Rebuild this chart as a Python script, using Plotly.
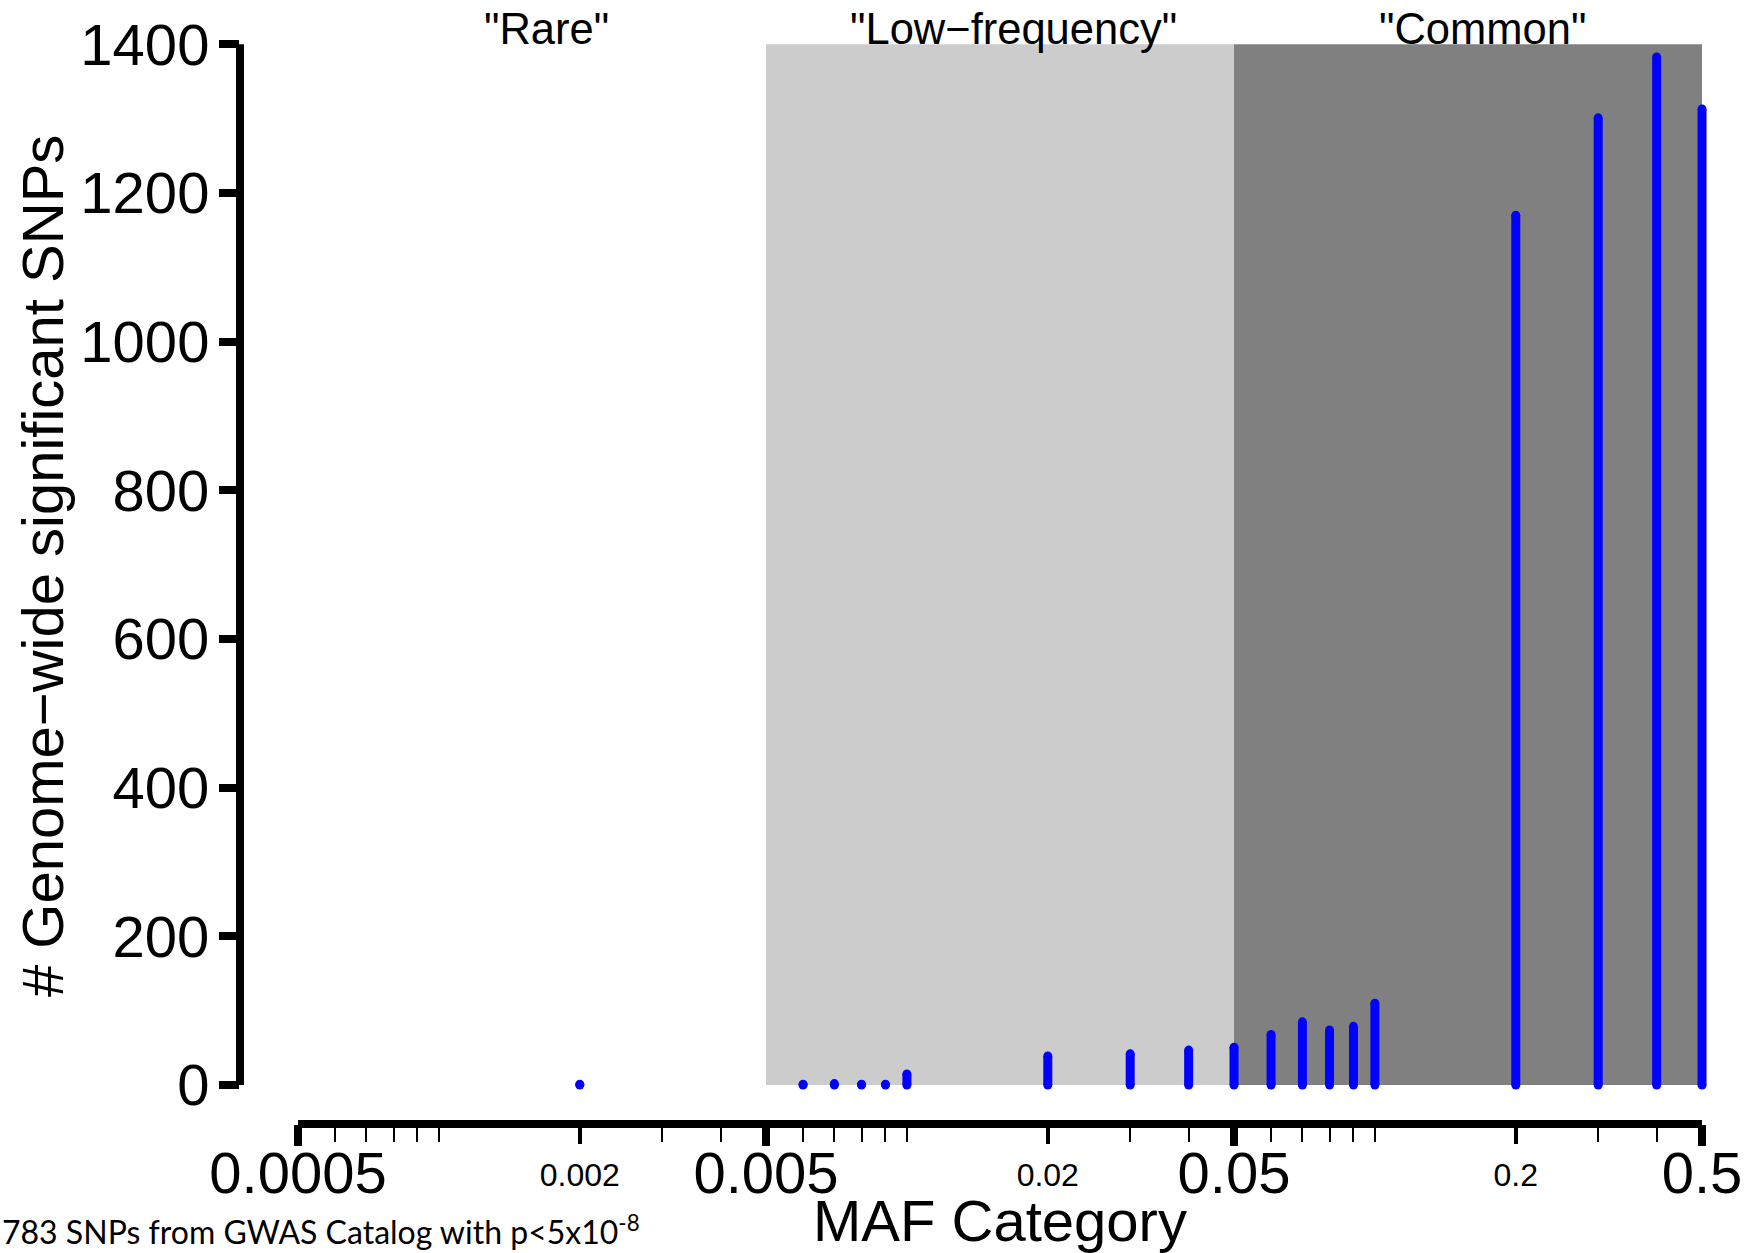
import numpy as np
import plotly.graph_objects as go

# ---------------- data ----------------
maf = [0.002, 0.006, 0.007, 0.008, 0.009, 0.01, 0.02, 0.03, 0.04, 0.05,
       0.06, 0.07, 0.08, 0.09, 0.1, 0.2, 0.3, 0.4, 0.5]
counts = [1, 1, 2, 1, 1, 15, 39, 42, 47, 51,
          68, 85, 74, 79, 110, 1170, 1301, 1383, 1313]

region_names = ['"Rare"', '"Low\u2212frequency"', '"Common"']
region_lo = [0.0005, 0.005, 0.05]
region_hi = [0.005, 0.05, 0.5]
region_fill = [None, "#cccccc", "#808080"]
region_label_x = [0.0017, 0.0169, 0.1695]

major_ticks = [0.0005, 0.005, 0.05, 0.5]
major_labels = ["0.0005", "0.005", "0.05", "0.5"]
mid_ticks = [0.002, 0.02, 0.2]
mid_labels = ["0.002", "0.02", "0.2"]
minor_ticks = [0.0006, 0.0007, 0.0008, 0.0009, 0.001, 0.003, 0.004,
               0.006, 0.007, 0.008, 0.009, 0.01, 0.03, 0.04,
               0.06, 0.07, 0.08, 0.09, 0.1, 0.3, 0.4]
y_ticks = [0, 200, 400, 600, 800, 1000, 1200, 1400]

x_title = "MAF Category"
y_title = "# Genome\u2212wide significant SNPs"
note = "783 SNPs from GWAS Catalog with p&lt;5x10<sup>-8</sup>"

# ---------------- layout geometry ----------------
W, H = 1761, 1253
L, R, T, B = 240, 1720, 30, 1124
PW, PH = R - L, B - T
x_range = [-3.425, -0.2626]
y_range = [-52.4, 1416.5]
FONT = "Liberation Sans, Arial, Helvetica, sans-serif"
BIG, SMALL = 58, 32
BLUE = "#0000ff"


def px_x(p):
    return (p - L) / PW


def px_y(p):
    return (B - p) / PH


fig = go.Figure()

# shaded MAF regions
y_top = max(y_ticks)
for lo, hi, col in zip(region_lo, region_hi, region_fill):
    if col is None:
        continue
    fig.add_trace(go.Scatter(
        x=[lo, hi, hi, lo, lo], y=[0, 0, y_top, y_top, 0],
        mode="lines", fill="toself", fillcolor=col,
        line=dict(width=0, color=col), hoverinfo="skip", showlegend=False))

# vertical "h"-type bars
xs, ys = [], []
for m, c in zip(maf, counts):
    xs += [m, m, None]
    ys += [0, c, None]
fig.add_trace(go.Scatter(
    x=xs, y=ys, mode="lines+markers",
    line=dict(color=BLUE, width=9),
    marker=dict(color=BLUE, size=9, line=dict(width=0)),
    hoverinfo="skip", showlegend=False, cliponaxis=False))

# invisible traces to activate the overlay tick axes
for ax, tv in (("x2", mid_ticks), ("x3", minor_ticks)):
    fig.add_trace(go.Scatter(
        x=tv, y=[0] * len(tv), xaxis=ax, yaxis="y", mode="markers",
        marker=dict(opacity=0), hoverinfo="skip", showlegend=False))

common_x = dict(type="log", range=x_range, showgrid=False, zeroline=False,
                showline=False, ticks="outside", tickcolor="black",
                fixedrange=True)

fig.update_layout(
    width=W, height=H, autosize=False,
    margin=dict(l=L, r=W - R, t=T, b=H - B, pad=0),
    paper_bgcolor="white", plot_bgcolor="white",
    font=dict(family=FONT, color="black"),
    xaxis=dict(**common_x, tickmode="array", tickvals=major_ticks,
               ticktext=major_labels, ticklen=21, tickwidth=8,
               tickfont=dict(size=BIG, family=FONT), ticklabelstandoff=-23),
    xaxis2=dict(**common_x, overlaying="x", anchor="y", side="bottom",
                tickmode="array", tickvals=mid_ticks, ticktext=mid_labels,
                ticklen=19, tickwidth=4,
                tickfont=dict(size=SMALL, family=FONT), ticklabelstandoff=4),
    xaxis3=dict(**common_x, overlaying="x", anchor="y", side="bottom",
                tickmode="array", tickvals=minor_ticks, ticklen=17,
                tickwidth=2, showticklabels=False),
    yaxis=dict(range=y_range, showgrid=False, zeroline=False, showline=False,
               ticks="outside", tickmode="array", tickvals=y_ticks,
               ticklen=20, tickwidth=8, tickcolor="black",
               tickfont=dict(size=BIG, family=FONT), ticklabelstandoff=-2,
               fixedrange=True),
    showlegend=False,
)

# R-style axis lines spanning only the tick range
fig.add_shape(type="line", xref="x", yref="paper",
              x0=major_ticks[0], x1=major_ticks[-1], y0=0, y1=0,
              line=dict(color="black", width=8))
fig.add_shape(type="line", xref="paper", yref="y",
              x0=0, x1=0, y0=y_ticks[0], y1=y_ticks[-1],
              line=dict(color="black", width=8))

# region labels
for name, lx in zip(region_names, region_label_x):
    fig.add_annotation(text=name, x=np.log10(lx), xref="x",
                       y=px_y(27), yref="paper", yanchor="middle",
                       xanchor="center", showarrow=False,
                       font=dict(size=43.5, family=FONT))

# axis titles
fig.add_annotation(text=x_title, x=px_x(1000), y=px_y(1221),
                   xref="paper", yref="paper", xanchor="center",
                   yanchor="middle", showarrow=False,
                   font=dict(size=BIG, family=FONT))
fig.add_annotation(text=y_title, x=px_x(42), y=px_y(565),
                   xref="paper", yref="paper", xanchor="center",
                   yanchor="middle", textangle=-90, showarrow=False,
                   font=dict(size=BIG, family=FONT))

# footnote
fig.add_annotation(text=note, x=px_x(0), y=px_y(1253),
                   xref="paper", yref="paper", xanchor="left",
                   yanchor="bottom", showarrow=False,
                   font=dict(size=32, family="Lato, Noto Sans, sans-serif"))

fig.write_html("out.html",
               config={"displayModeBar": False},
               post_script="document.body.style.margin='0';"
                           "document.body.style.overflow='hidden';")
